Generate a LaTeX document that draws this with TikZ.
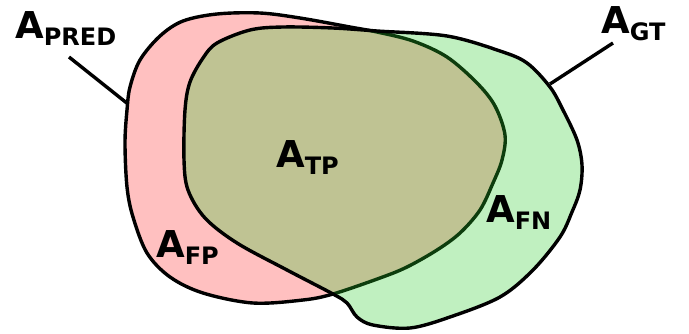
\documentclass[tikz,border=0pt]{standalone}
\usepackage{fontspec}
\setmainfont{DejaVu Sans}
\definecolor{predpink}{RGB}{255,192,192}
\definecolor{gtgreen}{RGB}{45,205,45}
\newcommand\arealabel[1]{{\fontsize{37}{37}\selectfont A}\raisebox{-7pt}{\fontsize{24}{24}\selectfont #1}}
\tikzset{
  blob/.style={line width=3.4pt, draw=black, line join=round},
  lbl/.style={anchor=base west, inner sep=0pt, font=\bfseries},
  leader/.style={line width=3.4pt, draw=black}
}
\begin{document}
\begin{tikzpicture}[x=1pt,y=-1pt]
\useasboundingbox (0,0) rectangle (689,333);
% PRED region
\path[blob, fill=predpink] plot[smooth cycle, tension=0.55] coordinates {
 (140,60) (160,36) (183,21) (217,14) (260,13) (300,18) (350,27) (377,32) (413,41)
 (447,57) (477,83) (495,106) (505,135) (502,160) (493,183) (480,210) (460,233)
 (437,250) (407,267) (380,278) (333,294) (303,300) (253,303) (203,293) (170,277)
 (147,253) (133,217) (127,187) (125,143) (127,110) (130,87)};
% GT region
\path[blob, fill=gtgreen, fill opacity=0.3] plot[smooth cycle, tension=0.55] coordinates {
 (190,82) (203,58) (217,43) (250,30) (283,27) (333,28) (377,31) (447,36) (500,51)
 (527,63) (550,87) (563,110) (577,140) (582,165) (580,190) (572,212) (560,237)
 (533,270) (500,297) (450,317) (410,328) (373,325) (357,317) (347,303) (333,294)
 (287,270) (237,243) (205,218) (188,190) (184,160) (185,110)};
% labels
\node[lbl] (pred) at (15,38) {\arealabel{PRED}};
\node[lbl] (gt) at (601,33) {\arealabel{GT}};
\node[lbl] (tp) at (276,167) {\arealabel{TP}};
\node[lbl] (fp) at (156,257) {\arealabel{FP}};
\node[lbl] (fn) at (486,222) {\arealabel{FN}};
% leader lines
\coordinate (predA) at (69,57);
\coordinate (predB) at (128,104);
\coordinate (gtA) at (613,43);
\coordinate (gtB) at (550,84);
\draw[leader] (predA) -- (predB);
\draw[leader] (gtA) -- (gtB);
\end{tikzpicture}
\end{document}
